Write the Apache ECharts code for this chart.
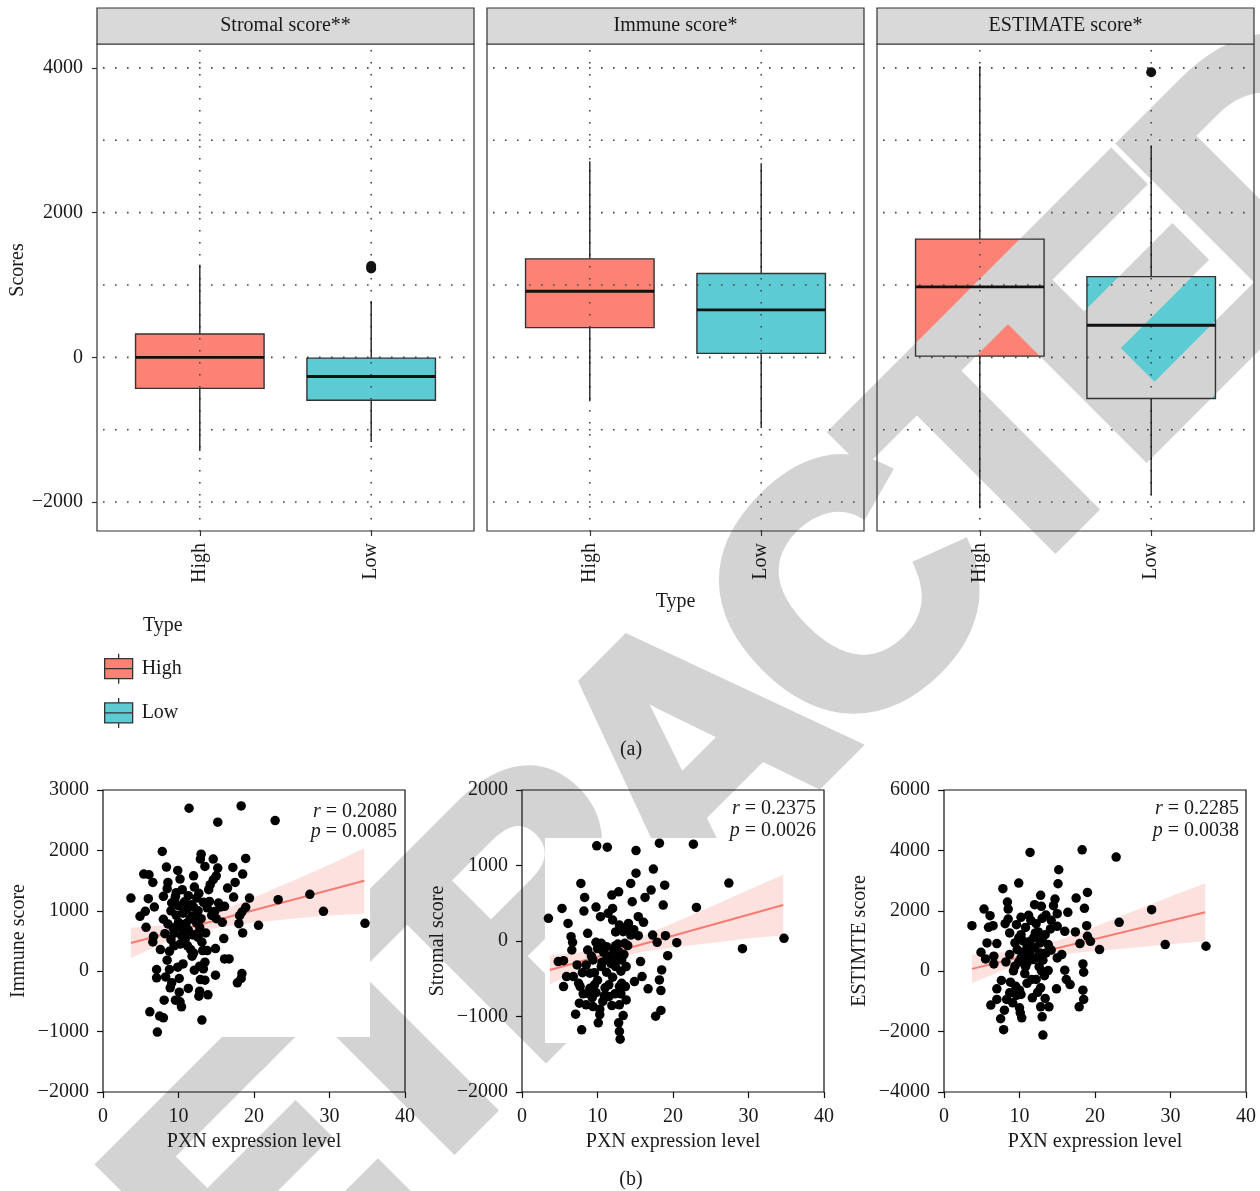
<!DOCTYPE html>
<html><head><meta charset="utf-8">
<script src="https://cdn.jsdelivr.net/npm/echarts@6/dist/echarts.min.js"></script>
<style>html,body{margin:0;padding:0;background:#fff}#c{width:1260px;height:1191px}</style>
</head><body><div id="c"></div>
<script>
const FONT = '"Liberation Serif","DejaVu Serif",serif';
const TXT = '#1a1a1a';
const panelTitles = ['Stromal score**', 'Immune score*', 'ESTIMATE score*'];
const types = ['High', 'Low'];
const typeColors = ['#FC8276', '#5CCBD3'];
// box stats: [min, Q1, median, Q3, max]
const stromalHigh = [-1296, -429, 0, 323, 1280];
const stromalLow = [-1169, -593, -265, -11, 778];
const immuneHigh = [-607, 410, 913, 1361, 2710];
const immuneLow = [-978, 55, 656, 1158, 2683];
const estimateHigh = [-2087, 16, 973, 1634, 4022];
const estimateLow = [-1907, -568, 443, 1115, 2929];
const stromalLowOutliers = [1228, 1262];
const estimateLowOutliers = [3940];
const boxYTicks = [-2000, 0, 2000, 4000];
const boxGridLines = [-2000, -1000, 0, 1000, 2000, 3000, 4000];

// scatter points [PXN expression, score]
const immunePts = [[11.4,2698],[18.3,2737],[15.2,2467],[22.8,2494],[7.85,1982],[13.0,1938],[12.9,1856],[14.6,1856],[18.9,1867],[8.4,1724],[13.5,1735],[15.2,1707],[17.2,1718],[9.9,1669],[5.4,1608],[6.1,1597],[12.0,1580],[15.0,1580],[18.5,1608],[10.2,1525],[6.6,1470],[8.6,1470],[17.5,1470],[14.6,1514],[14.2,1432],[16.5,1377],[8.5,1366],[10.5,1349],[12.1,1393],[14.0,1349],[3.7,1211],[6.0,1200],[8.0,1239],[9.6,1239],[11.3,1250],[12.4,1211],[17.3,1228],[19.4,1211],[23.2,1184],[27.4,1272],[9.1,1129],[10.0,1085],[11.7,1101],[13.3,1140],[14.1,1156],[15.3,1129],[15.6,1063],[16.1,1074],[6.8,1063],[5.6,991],[18.9,1057],[29.2,991],[4.9,909],[9.7,925],[11.8,909],[13.0,870],[14.4,925],[18.1,919],[18.4,980],[12.4,798],[15.8,809],[18.0,787],[20.6,760],[34.7,793],[5.7,727],[8.6,782],[9.3,716],[10.5,699],[12.8,727],[8.2,622],[9.4,628],[10.4,589],[12.4,617],[13.6,633],[18.5,633],[6.7,578],[9.0,523],[10.9,534],[16.0,540],[6.6,485],[7.6,358],[8.8,330],[11.6,358],[13.2,341],[13.8,341],[14.9,374],[11.8,248],[16.1,204],[16.7,204],[8.5,182],[9.9,66],[7.1,28],[8.8,28],[12.1,17],[12.8,83],[18.4,-39],[7.1,-110],[8.3,-94],[10.1,-121],[12.9,-138],[13.5,-149],[14.9,-66],[18.3,-121],[17.8,-193],[9.1,-193],[8.9,-275],[11.3,-286],[12.8,-330],[13.9,-391],[12.7,-413],[10.1,-347],[8.1,-479],[9.6,-479],[10.2,-507],[10.4,-589],[6.2,-672],[7.5,-743],[8.0,-771],[13.1,-809],[7.2,-1008],[9.5,1180],[10.8,1150],[11.1,1020],[12.0,1060],[12.6,1000],[10.6,960],[11.5,860],[12.2,860],[10.0,810],[11.0,790],[9.8,740],[11.3,680],[10.7,640],[11.9,600],[12.6,560],[13.1,480],[10.2,450],[9.4,420],[11.2,420],[12.0,300],[13.5,150],[10.6,120],[13.3,40],[9.7,1300],[12.7,1290],[13.8,1050],[14.8,990],[15.0,870],[9.0,1000],[8.0,860]];
const stromalPts = [[9.9,1260],[11.3,1242],[15.1,1198],[18.2,1295],[22.7,1282],[17.4,952],[15.1,899],[7.8,762],[14.4,762],[12.8,652],[17.1,674],[18.9,740],[27.4,767],[11.9,608],[8.3,577],[16.3,577],[14.6,520],[18.7,476],[23.1,445],[5.3,432],[9.8,449],[12.0,432],[11.4,366],[8.2,396],[3.5,300],[10.4,322],[15.4,322],[6.1,233],[12.0,278],[12.9,211],[14.1,233],[16.1,247],[8.7,101],[6.5,57],[14.4,79],[15.4,70],[17.3,79],[19.0,70],[13.4,123],[34.7,35],[6.7,-18],[9.8,-18],[10.5,-31],[13.6,-31],[17.9,-18],[20.5,-22],[11.2,-75],[12.4,-62],[29.2,-101],[6.6,-119],[8.7,-119],[12.8,-141],[19.3,-194],[4.8,-273],[5.5,-260],[9.4,-251],[11.2,-251],[13.2,-251],[15.7,-273],[7.3,-317],[8.5,-317],[10.5,-339],[12.4,-339],[13.8,-339],[18.5,-383],[5.9,-471],[9.0,-427],[11.2,-414],[6.8,-471],[15.9,-471],[14.9,-537],[18.2,-515],[5.5,-604],[7.7,-604],[9.0,-626],[11.5,-581],[12.9,-604],[13.7,-604],[16.7,-634],[18.4,-656],[8.7,-692],[9.8,-683],[10.9,-727],[11.5,-736],[13.8,-780],[7.6,-824],[8.5,-846],[9.4,-868],[10.3,-903],[11.9,-855],[12.9,-846],[7.1,-969],[10.3,-974],[13.4,-987],[17.7,-996],[18.4,-920],[10.1,-1084],[12.8,-1084],[7.9,-1176],[12.9,-1198],[13.0,-1300],[9.2,-200],[10.0,-100],[10.8,-150],[11.6,-200],[12.2,-120],[12.7,-40],[13.1,-400],[12.0,-480],[10.0,-520],[9.6,-580],[8.0,-420],[7.5,-560],[10.6,-280],[11.8,-300],[12.6,-230],[13.5,-180],[14.0,-60],[14.8,150],[13.8,180],[12.4,120],[9.3,-750],[8.1,-700],[11.0,-620],[12.3,-700],[10.7,-800],[13.2,-560],[13.1,-700],[9.6,-420]];
const estimatePts = [[11.4,3932],[18.3,4020],[22.8,3778],[15.2,3359],[15.1,2896],[9.9,2918],[7.8,2731],[12.8,2511],[8.4,2291],[14.7,2390],[17.5,2423],[19.0,2610],[12.0,2203],[12.9,2148],[8.5,2059],[14.5,2170],[5.3,2059],[18.6,2081],[27.5,2037],[6.1,1839],[13.5,1861],[15.0,1905],[16.4,1949],[10.2,1784],[8.5,1729],[11.5,1685],[14.2,1685],[3.7,1509],[6.5,1509],[9.6,1542],[12.2,1575],[18.9,1509],[23.2,1619],[5.9,1454],[8.1,1575],[15.0,1487],[12.1,1267],[8.7,1267],[16.0,1322],[17.4,1300],[10.2,1211],[13.4,1211],[19.0,1156],[5.7,936],[7.0,914],[9.4,936],[11.4,991],[12.7,936],[13.8,881],[18.0,914],[19.4,991],[29.3,881],[34.7,826],[20.6,716],[4.9,628],[9.7,716],[11.4,661],[12.7,606],[15.6,551],[8.7,551],[6.6,496],[5.5,407],[10.2,441],[11.8,385],[13.1,363],[15.0,441],[6.6,242],[8.2,308],[9.4,165],[11.0,275],[18.4,242],[9.2,11],[12.9,11],[13.8,22],[16.0,33],[18.5,-33],[10.7,-77],[11.6,-275],[12.2,-275],[7.6,-308],[8.8,-363],[16.2,-275],[16.7,-441],[12.8,-551],[7.0,-584],[14.9,-584],[10.0,-628],[18.4,-628],[8.7,-716],[10.2,-771],[11.7,-881],[7.0,-936],[8.3,-936],[18.5,-936],[6.2,-1123],[9.1,-1046],[12.8,-1178],[13.9,-1178],[17.9,-1178],[8.0,-1289],[10.0,-1211],[10.1,-1377],[10.3,-1542],[7.5,-1575],[13.0,-1509],[7.9,-1938],[13.1,-2115],[10.8,1450],[11.9,1120],[12.5,1300],[13.0,1050],[10.5,1000],[9.9,1100],[11.0,800],[12.0,780],[10.4,620],[11.3,500],[12.3,450],[13.5,600],[14.2,700],[9.9,300],[10.8,150],[12.6,150],[13.3,-150],[11.0,-400],[9.5,-500],[12.4,-700],[13.4,-900],[9.6,-800],[14.1,1400],[13.0,1750],[11.2,1850]];

// regression fit lines
const fitX = [3.7, 34.6];
const immuneFit = [468, 1497];
const stromalFit = [-383, 476];
const estimateFit = [77, 1950];
// confidence band edges read at these x positions
const bandX = [3.7, 8, 12, 16, 20, 25, 30, 34.6];
const immuneLo = [218, 461, 635, 738, 801, 868, 924, 957];
const immuneHi = [718, 761, 855, 1018, 1221, 1488, 1764, 2037];
const stromalLo = [-573, -375, -234, -142, -86, -26, 34, 76];
const stromalHi = [-193, -145, -64, 68, 234, 454, 674, 876];
const estimateLo = [-393, 50, 374, 568, 672, 777, 892, 990];
const estimateHi = [547, 630, 794, 1088, 1472, 1977, 2472, 2910];

const scatterTitles = ['Immune score', 'Stromal score', 'ESTIMTE score'];
const statR = ['0.2080', '0.2375', '0.2285'];
const statP = ['0.0085', '0.0026', '0.0038'];
const scatterYRange = [[-2000, 3000, 1000], [-2000, 2000, 1000], [-4000, 6000, 2000]];
const xTicksBottom = [0, 40, 10];

const minus = v => String(v).replace('-', '\u2212');

const topGrids = [97, 487, 877];
const botGrids = [103, 522, 944];
const grids = [];
topGrids.forEach(l => grids.push({left: l, top: 44, width: 377, height: 487, show: true, borderColor: '#333', borderWidth: 1.2, backgroundColor: 'transparent', z: 7}));
botGrids.forEach(l => grids.push({left: l, top: 790, width: 302, height: 302, show: true, borderColor: '#111', borderWidth: 1.2, backgroundColor: 'transparent', z: 7}));

const xAxes = [], yAxes = [];
for (let i = 0; i < 3; i++) {
  xAxes.push({gridIndex: i, type: 'value', min: 0.4, max: 2.6, z: 10,
    axisLine: {show: false, onZero: false}, splitLine: {show: false},
    axisTick: {show: true, customValues: [1, 2], length: 5, lineStyle: {color: '#333', width: 1.2}},
    axisLabel: {customValues: [1, 2], formatter: v => types[Math.round(v) - 1], rotate: 90, margin: 12,
      fontFamily: FONT, fontSize: 20, color: TXT},
    name: i === 1 ? 'Type' : '', nameLocation: 'middle', nameGap: 61,
    nameTextStyle: {fontFamily: FONT, fontSize: 20, color: TXT}});
  yAxes.push({gridIndex: i, type: 'value', min: -2400, max: 4330, z: 10,
    axisLine: {show: false, onZero: false}, splitLine: {show: false},
    axisTick: {show: i === 0, customValues: boxYTicks, length: 5, lineStyle: {color: '#333', width: 1.2}},
    axisLabel: {show: i === 0, customValues: boxYTicks, formatter: minus, margin: 14,
      fontFamily: FONT, fontSize: 20, color: TXT}});
}
for (let i = 0; i < 3; i++) {
  const r = scatterYRange[i];
  xAxes.push({gridIndex: 3 + i, type: 'value', min: xTicksBottom[0], max: xTicksBottom[1], interval: xTicksBottom[2], z: 10,
    axisLine: {show: false, onZero: false}, splitLine: {show: false},
    axisTick: {show: true, length: 6, lineStyle: {color: '#111', width: 1.2}},
    axisLabel: {margin: 15, fontFamily: FONT, fontSize: 20, color: TXT},
    name: 'PXN expression level', nameLocation: 'middle', nameGap: 40,
    nameTextStyle: {fontFamily: FONT, fontSize: 20, color: TXT}});
  yAxes.push({gridIndex: 3 + i, type: 'value', min: r[0], max: r[1], interval: r[2], z: 10,
    axisLine: {show: false, onZero: false}, splitLine: {show: false},
    axisTick: {show: true, length: 6, lineStyle: {color: '#111', width: 1.2}},
    axisLabel: {margin: 14, formatter: minus, fontFamily: FONT, fontSize: 20, color: TXT},
    name: scatterTitles[i], nameLocation: 'middle', nameGap: 74,
    nameTextStyle: {fontFamily: FONT, fontSize: 20, color: TXT}});
}

const series = [];
const boxStats = [[stromalHigh, stromalLow], [immuneHigh, immuneLow], [estimateHigh, estimateLow]];
const DOT = {stroke: '#444', lineWidth: 1.6, lineDash: [1.6, 10.4]};
for (let g = 0; g < 3; g++) {
  series.push({type: 'custom', xAxisIndex: g, yAxisIndex: g, z: 6, silent: true,
    data: boxGridLines.map(v => [v]),
    renderItem(params, api) {
      const cs = params.coordSys;
      const y = api.coord([1, api.value(0)])[1];
      const children = [{type: 'line', shape: {x1: cs.x + 6, y1: y, x2: cs.x + cs.width, y2: y}, style: DOT}];
      if (params.dataIndex === 0) {
        [1, 2].forEach(c => {
          const x = api.coord([c, 0])[0];
          children.push({type: 'line', shape: {x1: x, y1: cs.y + 6, x2: x, y2: cs.y + cs.height}, style: DOT});
        });
      }
      return {type: 'group', children};
    }});
  for (let t = 0; t < 2; t++) {
    const st = boxStats[g][t];
    series.push({type: 'custom', name: types[t], xAxisIndex: g, yAxisIndex: g, z: 2,
      itemStyle: {color: typeColors[t]},
      data: [[t + 1].concat(st)],
      renderItem(params, api) {
        const x = api.value(0);
        const q1 = api.coord([x, api.value(2)]), q3 = api.coord([x, api.value(4)]);
        const hw = api.size([0.75, 0])[0] / 2;
        return {type: 'rect', shape: {x: q1[0] - hw, y: q3[1], width: 2 * hw, height: q1[1] - q3[1]},
          style: {fill: typeColors[t]}};
      }});
    series.push({type: 'custom', xAxisIndex: g, yAxisIndex: g, z: 7, silent: true,
      data: [[t + 1].concat(st)],
      renderItem(params, api) {
        const x = api.value(0);
        const lo = api.coord([x, api.value(1)]), q1 = api.coord([x, api.value(2)]),
          md = api.coord([x, api.value(3)]), q3 = api.coord([x, api.value(4)]), hi = api.coord([x, api.value(5)]);
        const hw = api.size([0.75, 0])[0] / 2;
        const cx = lo[0];
        return {type: 'group', children: [
          {type: 'line', shape: {x1: cx, y1: hi[1], x2: cx, y2: q3[1]}, style: {stroke: '#111', lineWidth: 1.3}},
          {type: 'line', shape: {x1: cx, y1: q1[1], x2: cx, y2: lo[1]}, style: {stroke: '#111', lineWidth: 1.3}},
          {type: 'rect', shape: {x: cx - hw, y: q3[1], width: 2 * hw, height: q1[1] - q3[1]}, style: {fill: 'none', stroke: '#333', lineWidth: 1.4}},
          {type: 'line', shape: {x1: cx - hw, y1: md[1], x2: cx + hw, y2: md[1]}, style: {stroke: '#111', lineWidth: 2.8}}
        ]};
      }});
  }
}
series.push({type: 'scatter', xAxisIndex: 0, yAxisIndex: 0, z: 8, symbolSize: 10, itemStyle: {color: '#111', opacity: 1},
  data: stromalLowOutliers.map(v => [2, v])});
series.push({type: 'scatter', xAxisIndex: 2, yAxisIndex: 2, z: 8, symbolSize: 10, itemStyle: {color: '#111', opacity: 1},
  data: estimateLowOutliers.map(v => [2, v])});

const bands = [[immuneLo, immuneHi], [stromalLo, stromalHi], [estimateLo, estimateHi]];
const fits = [immuneFit, stromalFit, estimateFit];
const pts = [immunePts, stromalPts, estimatePts];
for (let i = 0; i < 3; i++) {
  const gi = 3 + i;
  const lo = bands[i][0], hi = bands[i][1];
  series.push({type: 'custom', xAxisIndex: gi, yAxisIndex: gi, z: 8, silent: true,
    data: [[bandX[0], lo[0]]],
    renderItem(params, api) {
      const p = [];
      for (let k = 0; k < bandX.length; k++) p.push(api.coord([bandX[k], hi[k]]));
      for (let k = bandX.length - 1; k >= 0; k--) p.push(api.coord([bandX[k], lo[k]]));
      return {type: 'polygon', shape: {points: p}, style: {fill: 'rgba(248,118,109,0.22)'}};
    }});
  series.push({type: 'line', xAxisIndex: gi, yAxisIndex: gi, z: 9, symbol: 'none', silent: true,
    lineStyle: {color: '#F87B72', width: 2}, data: fitX.map((x, k) => [x, fits[i][k]])});
  series.push({type: 'scatter', xAxisIndex: gi, yAxisIndex: gi, z: 10, symbolSize: 9.5,
    itemStyle: {color: '#000', opacity: 1}, data: pts[i]});
}

const graphic = [];
topGrids.forEach((l, i) => {
  graphic.push({type: 'rect', z: 8, shape: {x: l, y: 8, width: 377, height: 36}, style: {fill: '#d9d9d9', stroke: '#333', lineWidth: 1.2}});
  graphic.push({type: 'text', z: 9, x: l + 188.5, y: 26, style: {text: panelTitles[i], font: '20px ' + FONT, fill: TXT, align: 'center', verticalAlign: 'middle'}});
});
graphic.push({type: 'text', z: 9, x: 18, y: 270, rotation: Math.PI / 2, style: {text: 'Scores', font: '20px ' + FONT, fill: TXT, align: 'center', verticalAlign: 'middle'}});
graphic.push({type: 'text', z: 9, x: 143, y: 626, style: {text: 'Type', font: '20px ' + FONT, fill: TXT, align: 'left', verticalAlign: 'middle'}});
graphic.push({type: 'text', z: 9, x: 631, y: 750, style: {text: '(a)', font: '20px ' + FONT, fill: TXT, align: 'center', verticalAlign: 'middle'}});
graphic.push({type: 'text', z: 9, x: 631, y: 1180, style: {text: '(b)', font: '20px ' + FONT, fill: TXT, align: 'center', verticalAlign: 'middle'}});
const statRight = [397, 816, 1239];
const statY = [[812, 832], [809, 831], [809, 831]];
for (let i = 0; i < 3; i++) {
  graphic.push({type: 'text', z: 12, x: statRight[i], y: statY[i][0], style: {text: '{i|r} = ' + statR[i], font: '20px ' + FONT, fill: TXT, align: 'right', verticalAlign: 'middle',
    rich: {i: {fontStyle: 'italic', fontFamily: FONT, fontSize: 20, fill: TXT}}}});
  graphic.push({type: 'text', z: 12, x: statRight[i], y: statY[i][1], style: {text: '{i|p} = ' + statP[i], font: '20px ' + FONT, fill: TXT, align: 'right', verticalAlign: 'middle',
    rich: {i: {fontStyle: 'italic', fontFamily: FONT, fontSize: 20, fill: TXT}}}});
}
// "RETRACTED" watermark, one letter at a time along a 45-degree baseline
const wmLetters = ['R', 'E', 'T', 'R', 'A', 'C', 'T', 'E', 'D'];
const wmOffsets = [-833, -620, -425, -220, 0, 220, 425, 620, 833];
const wmCenter = [706, 761], wmCos = Math.SQRT1_2;
wmLetters.forEach((ch, k) => {
  graphic.push({type: 'text', z: 5, silent: true,
    x: wmCenter[0] + wmOffsets[k] * wmCos, y: wmCenter[1] - wmOffsets[k] * wmCos, rotation: Math.PI / 4,
    style: {text: ch, font: 'bold 340px "Liberation Sans", Arial, sans-serif', fill: '#d3d3d3',
      stroke: '#d3d3d3', lineWidth: 14, align: 'center', verticalAlign: 'middle'}});
});
// white patches over the watermark, as in the source figure
graphic.push({type: 'rect', z: 6, silent: true, shape: {x: 545, y: 838, width: 277, height: 205}, style: {fill: '#fff'}});
graphic.push({type: 'rect', z: 6, silent: true, shape: {x: 104, y: 791, width: 266, height: 246}, style: {fill: '#fff'}});

const chart = echarts.init(document.getElementById('c'), null, {renderer: 'canvas'});
chart.setOption({
  animation: false,
  backgroundColor: '#fff',
  textStyle: {fontFamily: FONT},
  grid: grids, xAxis: xAxes, yAxis: yAxes, series,
  legend: {orient: 'vertical', left: 99, top: 648, itemWidth: 28, itemHeight: 32, itemGap: 13,
    data: types, selectedMode: false,
    icon: 'path://M0,5L28,5L28,25L0,25Z M0,15L28,15 M14,0L14,5 M14,25L14,30',
    itemStyle: {borderColor: '#333', borderWidth: 1.3},
    textStyle: {fontFamily: FONT, fontSize: 20, color: TXT, padding: [0, 0, 0, 4]}},
  graphic
});
</script></body></html>
